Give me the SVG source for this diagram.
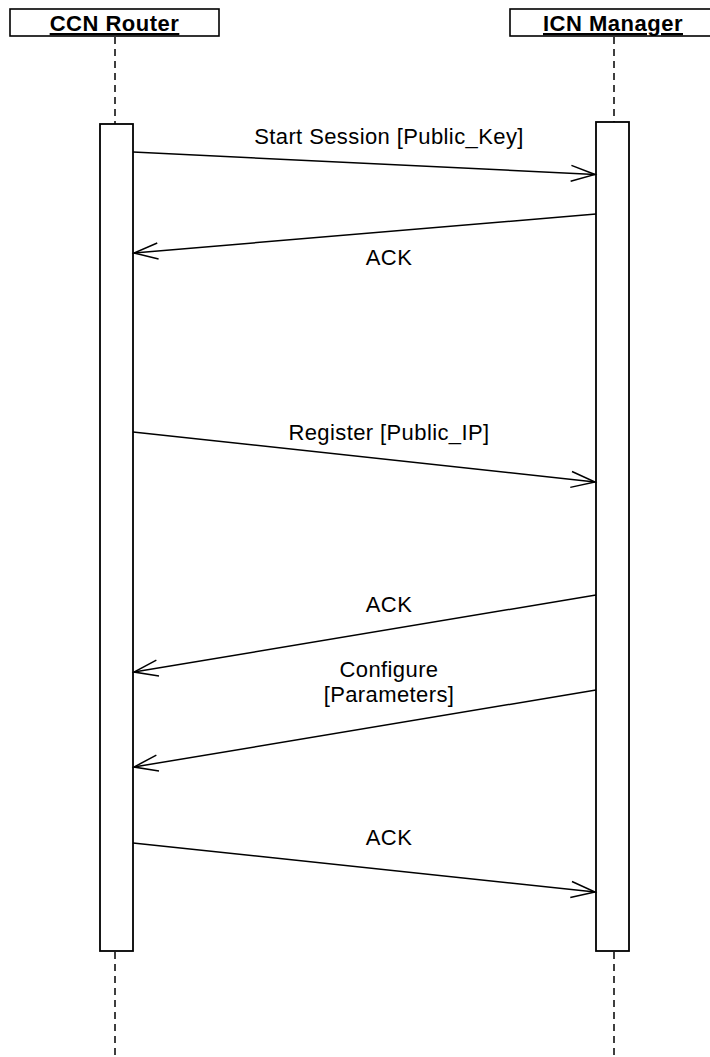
<svg xmlns="http://www.w3.org/2000/svg" width="710" height="1057" viewBox="0 0 710 1057">
  <style>
    .head { fill: #fff; stroke: #000; stroke-width: 1.6; }
    .head-text { font-family: "Liberation Sans", Arial, sans-serif; font-size: 22px; font-weight: bold; text-decoration: underline; text-anchor: middle; letter-spacing: 0.5px; }
    .life { stroke: #000; stroke-width: 1.5; stroke-dasharray: 7 5; fill: none; }
    .act { fill: #fff; stroke: #000; stroke-width: 1.8; }
    .msg { stroke: #000; stroke-width: 1.5; fill: none; marker-end: url(#open); }
    .label { font-family: "Liberation Sans", Arial, sans-serif; font-size: 22px; text-anchor: middle; letter-spacing: 0.4px; fill: #000; }
  </style>
  <defs>
    <marker id="open" markerUnits="userSpaceOnUse" markerWidth="30" markerHeight="20" viewBox="-27 -10 30 20" refX="0" refY="0" orient="auto" overflow="visible">
      <path d="M -24 -8 L 0 0 L -24 8" fill="none" stroke="#000" stroke-width="1.5"/>
    </marker>
  </defs>

  <rect width="710" height="1057" fill="#fff"/>

  <!-- CCN Router participant -->
  <g id="ccn-router">
    <line class="life" x1="115" y1="37" x2="115" y2="124"/>
    <line class="life" x1="115" y1="952" x2="115" y2="1057"/>
    <rect class="head" x="10" y="9" width="209" height="27"/>
    <text class="head-text" x="114.5" y="31">CCN Router</text>
    <rect class="act" x="100" y="124" width="33" height="827"/>
  </g>

  <!-- ICN Manager participant -->
  <g id="icn-manager">
    <line class="life" x1="614" y1="37" x2="614" y2="122"/>
    <line class="life" x1="614" y1="952" x2="614" y2="1057"/>
    <rect class="head" x="510" y="9" width="209" height="27"/>
    <text class="head-text" x="613" y="31">ICN Manager</text>
    <rect class="act" x="596" y="122" width="33" height="829"/>
  </g>

  <!-- messages -->
  <g id="messages">
    <line class="msg" x1="133" y1="152" x2="595" y2="174.5"/>
    <line class="msg" x1="596" y1="214" x2="134" y2="253"/>
    <line class="msg" x1="133" y1="432" x2="595" y2="482"/>
    <line class="msg" x1="596" y1="595" x2="134" y2="672"/>
    <line class="msg" x1="596" y1="690" x2="134" y2="767"/>
    <line class="msg" x1="133" y1="843" x2="595" y2="892"/>
  </g>

  <g id="message-labels">
    <text class="label" x="389" y="144">Start Session [Public_Key]</text>
    <text class="label" x="389" y="265">ACK</text>
    <text class="label" x="389" y="440">Register [Public_IP]</text>
    <text class="label" x="389" y="612">ACK</text>
    <text class="label" x="389" y="677">Configure</text>
    <text class="label" x="389" y="702">[Parameters]</text>
    <text class="label" x="389" y="845">ACK</text>
  </g>
</svg>
